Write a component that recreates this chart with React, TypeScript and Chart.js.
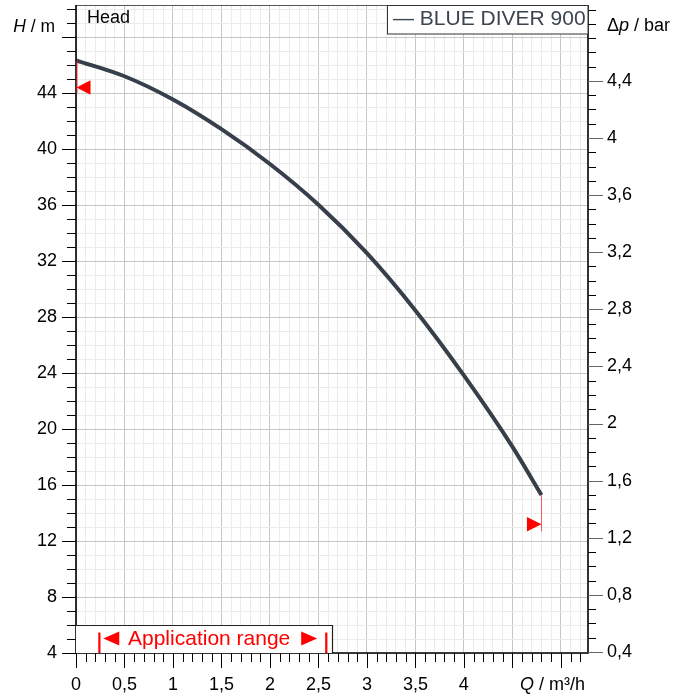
import React, { useEffect, useRef } from "react";
import { Chart, registerables } from "chart.js";

Chart.register(...registerables);

// ---- data ----
const flowQ = [0, 0.5, 1, 1.5, 2, 2.5, 3, 3.5, 4, 4.5, 4.8];
const headH = [46.34, 45.2, 43.54, 41.42, 38.93, 36.02, 32.56, 28.47, 23.83, 18.74, 15.28];
const seriesName = "BLUE DIVER 900";

const xLabelValues = [0, 0.5, 1, 1.5, 2, 2.5, 3, 3.5, 4];
const xLabelTexts = ["0", "0,5", "1", "1,5", "2", "2,5", "3", "3,5", "4"];
const yLabelValues = [4, 8, 12, 16, 20, 24, 28, 32, 36, 40, 44];
const yLabelTexts = ["4", "8", "12", "16", "20", "24", "28", "32", "36", "40", "44"];
const pLabelValues = [0.4, 0.8, 1.2, 1.6, 2.0, 2.4, 2.8, 3.2, 3.6, 4.0, 4.4];
const pLabelTexts = ["0,4", "0,8", "1,2", "1,6", "2", "2,4", "2,8", "3,2", "3,6", "4", "4,4"];

const X_MIN = 0;
const X_MAX = 5.28;
const Y_MIN = 4;
const Y_MAX = 50.29;
const BAR_PER_M = 0.0980665;

// application range (Q) and operating-range markers
const appRangeQ = [0.24, 2.58];
const appBoxQEnd = 2.64;
const appBoxHTop = 6.0;
const appBarHTop = 5.46;
const markerLeft = { q: 0, hTop: 46.34, hBottom: 44.0, hTri: 44.4 };
const markerRight = { q: 4.8, hTop: 15.28, hBottom: 12.7, hTri: 13.2 };

// grid / tick positions
const xGridValues: number[] = [];
for (let i = 0; i <= 52; i++) xGridValues.push(i / 10);
const yGridValues: number[] = [];
for (let v = 4; v <= 50; v++) yGridValues.push(v);
const pTickValues: number[] = [];
for (let i = 4; i <= 49; i++) pTickValues.push(i / 10);

const FONT = "'Liberation Sans', Arial, sans-serif";

const decorPlugin = {
  id: "decor",
  beforeDatasetsDraw(chart: any) {
    const ctx = chart.ctx;
    const xs = chart.scales.x;
    const ys = chart.scales.y;
    ctx.save();
    const rx = Math.round(xs.getPixelForValue(markerRight.q)) + 0.5;
    ctx.strokeStyle = "rgba(255,60,60,0.85)";
    ctx.lineWidth = 1;
    ctx.beginPath();
    ctx.moveTo(rx, ys.getPixelForValue(markerRight.hTop));
    ctx.lineTo(rx, ys.getPixelForValue(markerRight.hBottom));
    ctx.stroke();
    ctx.restore();
  },
  afterDraw(chart: any) {
    const ctx = chart.ctx;
    const xs = chart.scales.x;
    const ys = chart.scales.y;
    const { left, right, top, bottom } = chart.chartArea;
    ctx.save();

    // frame
    ctx.strokeStyle = "#555";
    ctx.lineWidth = 1;
    ctx.beginPath();
    ctx.moveTo(left, top + 0.5);
    ctx.lineTo(right, top + 0.5);
    ctx.stroke();
    ctx.strokeStyle = "#000";
    ctx.lineWidth = 1.6;
    ctx.beginPath();
    ctx.moveTo(left, top);
    ctx.lineTo(left, bottom);
    ctx.lineTo(right, bottom);
    ctx.lineTo(right, top);
    ctx.stroke();

    // left ticks
    ctx.lineWidth = 1;
    for (const v of yGridValues) {
      const y = Math.round(ys.getPixelForValue(v)) + 0.5;
      const major = v % 4 === 0;
      ctx.strokeStyle = "#000";
      ctx.beginPath();
      ctx.moveTo(left - (major ? 14 : 9), y);
      ctx.lineTo(left, y);
      ctx.stroke();
    }
    // bottom ticks
    xGridValues.forEach((v, i) => {
      const x = Math.round(xs.getPixelForValue(v)) + 0.5;
      const major = i % 5 === 0;
      ctx.strokeStyle = "#000";
      ctx.beginPath();
      ctx.moveTo(x, bottom);
      ctx.lineTo(x, bottom + (major ? 15 : 9));
      ctx.stroke();
    });
    // right ticks
    pTickValues.forEach((b) => {
      const i = Math.round(b * 10);
      const y = Math.round(ys.getPixelForValue(b / BAR_PER_M)) + 0.5;
      const major = i % 4 === 0 && i <= 44;
      ctx.strokeStyle = major ? "#666" : "#000";
      ctx.beginPath();
      ctx.moveTo(right, y);
      ctx.lineTo(right + (major ? 15 : 8), y);
      ctx.stroke();
    });

    // labels
    ctx.fillStyle = "#000";
    ctx.font = `18px ${FONT}`;
    ctx.textBaseline = "middle";
    ctx.textAlign = "right";
    yLabelValues.forEach((v, i) => {
      ctx.fillText(yLabelTexts[i], 57, ys.getPixelForValue(v));
    });
    ctx.textAlign = "left";
    pLabelValues.forEach((b, i) => {
      ctx.fillText(pLabelTexts[i], 607, ys.getPixelForValue(b / BAR_PER_M));
    });
    ctx.textAlign = "center";
    ctx.textBaseline = "alphabetic";
    xLabelValues.forEach((v, i) => {
      ctx.fillText(xLabelTexts[i], xs.getPixelForValue(v), 690);
    });

    // axis titles
    const drawParts = (parts: [string, boolean][], x: number, y: number, size: number, alignRight = false) => {
      ctx.textAlign = "left";
      ctx.textBaseline = "alphabetic";
      let total = 0;
      const widths = parts.map(([t, it]) => {
        ctx.font = `${it ? "italic " : ""}${size}px ${FONT}`;
        const w = ctx.measureText(t).width;
        total += w;
        return w;
      });
      let cx = alignRight ? x - total : x;
      parts.forEach(([t, it], k) => {
        ctx.font = `${it ? "italic " : ""}${size}px ${FONT}`;
        ctx.fillText(t, cx, y);
        cx += widths[k];
      });
    };
    ctx.fillStyle = "#000";
    drawParts([["H", true], [" / m", false]], 55, 31.5, 17.5, true);
    drawParts([["Δ", false], ["p", true], [" / bar", false]], 607, 31, 18);
    drawParts([["Q", true], [" / m³/h", false]], 520, 690, 18);

    // Head
    ctx.font = `18px ${FONT}`;
    ctx.textAlign = "left";
    ctx.fillText("Head", 87, 23);

    // legend
    ctx.fillStyle = "#fff";
    ctx.fillRect(388, 5, 200, 29);
    ctx.strokeStyle = "#333";
    ctx.lineWidth = 1;
    ctx.strokeRect(387.5, 5.5, 200.5, 28.5);
    ctx.save();
    ctx.beginPath();
    ctx.rect(388, 6, 200, 28);
    ctx.clip();
    ctx.fillStyle = "#3b4550";
    ctx.font = `21px ${FONT}`;
    ctx.fillText("— " + seriesName, 393, 25);
    ctx.restore();

    // application range box
    const bx0 = xs.getPixelForValue(0);
    const bx1 = xs.getPixelForValue(appBoxQEnd);
    const by0 = ys.getPixelForValue(appBoxHTop);
    ctx.fillStyle = "#fff";
    ctx.fillRect(bx0, by0, bx1 - bx0, bottom - by0);
    ctx.strokeStyle = "#222";
    ctx.lineWidth = 1.2;
    ctx.beginPath();
    ctx.moveTo(bx0, Math.round(by0) + 0.5);
    ctx.lineTo(Math.round(bx1) + 0.5, Math.round(by0) + 0.5);
    ctx.lineTo(Math.round(bx1) + 0.5, bottom);
    ctx.stroke();
    const a0 = xs.getPixelForValue(appRangeQ[0]);
    const a1 = xs.getPixelForValue(appRangeQ[1]);
    const abt = ys.getPixelForValue(appBarHTop);
    ctx.fillStyle = "#f00";
    ctx.fillRect(a0 - 1, abt, 2.2, bottom - abt);
    ctx.fillRect(a1 - 1, abt, 2.2, bottom - abt);
    const triC = 638.5;
    ctx.beginPath();
    ctx.moveTo(a0 + 4, triC);
    ctx.lineTo(a0 + 20, triC - 7);
    ctx.lineTo(a0 + 20, triC + 7);
    ctx.closePath();
    ctx.fill();
    ctx.beginPath();
    ctx.moveTo(a1 - 9, triC);
    ctx.lineTo(a1 - 25, triC - 7);
    ctx.lineTo(a1 - 25, triC + 7);
    ctx.closePath();
    ctx.fill();
    ctx.font = `21px ${FONT}`;
    ctx.textAlign = "left";
    ctx.fillText("Application range", 128, 644.5);

    // operating markers
    const lx = xs.getPixelForValue(markerLeft.q);
    ctx.strokeStyle = "rgba(255,40,40,0.9)";
    ctx.lineWidth = 1;
    ctx.beginPath();
    ctx.moveTo(lx + 1, ys.getPixelForValue(markerLeft.hTop));
    ctx.lineTo(lx + 1, ys.getPixelForValue(markerLeft.hBottom));
    ctx.stroke();
    ctx.fillStyle = "#f00";
    const lty = ys.getPixelForValue(markerLeft.hTri);
    ctx.beginPath();
    ctx.moveTo(lx + 0.5, lty);
    ctx.lineTo(lx + 14.5, lty - 7.3);
    ctx.lineTo(lx + 14.5, lty + 7.3);
    ctx.closePath();
    ctx.fill();
    const rxp = xs.getPixelForValue(markerRight.q);
    const rty = ys.getPixelForValue(markerRight.hTri);
    ctx.beginPath();
    ctx.moveTo(rxp, rty);
    ctx.lineTo(rxp - 14.5, rty - 7.2);
    ctx.lineTo(rxp - 14.5, rty + 7.2);
    ctx.closePath();
    ctx.fill();

    ctx.restore();
  },
};

export default function App() {
  const ref = useRef<HTMLCanvasElement | null>(null);
  useEffect(() => {
    document.body.style.margin = "0";
    const canvas = ref.current;
    if (!canvas) return;
    const majorX = (v: number) => Math.abs(v * 2 - Math.round(v * 2)) < 1e-6;
    const chart = new Chart(canvas, {
      type: "line",
      data: {
        datasets: [
          {
            label: seriesName,
            data: flowQ.map((q, i) => ({ x: q, y: headH[i] })),
            borderColor: "#363f4a",
            borderWidth: 4,
            pointRadius: 0,
            cubicInterpolationMode: "monotone",
            fill: false,
          },
        ],
      },
      options: {
        animation: false,
        responsive: false,
        devicePixelRatio: 1,
        layout: { padding: { left: 76, top: 5, right: 93, bottom: 44 } },
        plugins: { legend: { display: false }, tooltip: { enabled: false } },
        scales: {
          x: {
            type: "linear",
            min: X_MIN,
            max: X_MAX,
            afterBuildTicks: (s: any) => {
              s.ticks = xGridValues.map((v) => ({ value: v }));
            },
            ticks: { display: false },
            border: { display: false },
            grid: {
              drawTicks: false,
              lineWidth: 1,
              color: (c: any) => (majorX(c.tick.value) ? "#c6c6c6" : "#ebebeb"),
            },
          },
          y: {
            type: "linear",
            min: Y_MIN,
            max: Y_MAX,
            afterBuildTicks: (s: any) => {
              s.ticks = yGridValues.map((v) => ({ value: v }));
            },
            ticks: { display: false },
            border: { display: false },
            grid: {
              drawTicks: false,
              lineWidth: 1,
              color: (c: any) => (c.tick.value % 4 === 0 ? "#c6c6c6" : "#ebebeb"),
            },
          },
        },
      },
      plugins: [decorPlugin],
    } as any);
    return () => chart.destroy();
  }, []);
  return <canvas ref={ref} width={681} height={697} style={{ display: "block" }} />;
}
